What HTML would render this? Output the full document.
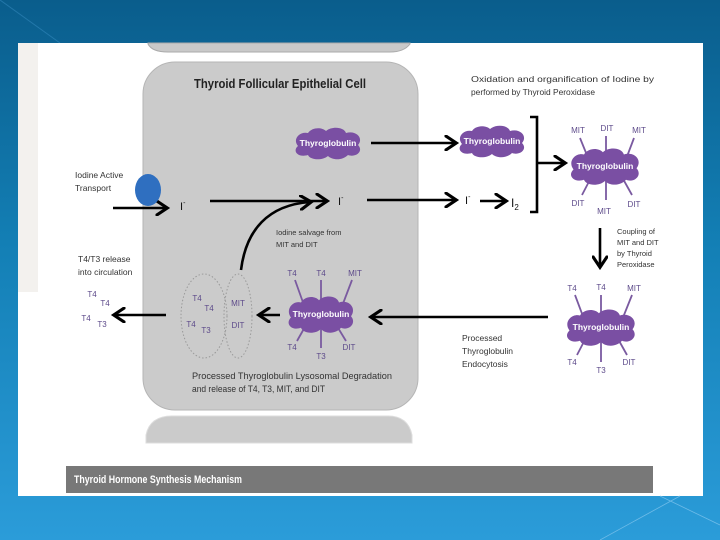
<!DOCTYPE html>
<html><head><meta charset="utf-8"><style>
html,body{margin:0;padding:0;width:720px;height:540px;overflow:hidden}
body{background:linear-gradient(180deg,#0a5d8c 0%,#137fb5 45%,#2b9cd9 100%);font-family:"Liberation Sans",sans-serif}
svg{position:absolute;left:0;top:0}
</style></head><body>
<svg width="720" height="540" viewBox="0 0 720 540">
<defs>
<marker id="ah" markerWidth="6" markerHeight="6" refX="4" refY="3" orient="auto" markerUnits="strokeWidth"><path d="M0,0 L4.5,3 L0,6" fill="none" stroke="#000" stroke-width="1.2"/></marker>
<g id="blob">
<path d="M-30,3 C-36,-4 -28,-12 -20,-10 C-16,-16 -6,-16 -2,-12 C4,-17 16,-16 18,-10 C28,-13 36,-5 30,2 C36,8 28,15 20,12 C14,18 4,17 0,13 C-6,18 -18,17 -20,12 C-30,15 -36,8 -30,3 Z" fill="#7a4fa3"/>
</g>
</defs>
<path d="M0,0 L60,43" stroke="#3a8fc4" stroke-width="1" opacity="0.5"/>
<rect x="18" y="43" width="685" height="453" fill="#fff"/>
<rect x="18" y="43" width="20" height="249" fill="#f3f1ee"/>
<!-- cells -->
<path d="M148,43 L410,43 L410,44 Q404,52 390,52 L168,52 Q152,52 148,44 Z" fill="#c9c9c9" stroke="#aaa"/>
<rect x="143" y="62" width="275" height="348" rx="32" fill="#cbcbcb" stroke="#b5b5b5"/>
<path d="M146,443 L146,435 Q150,416 172,416 L388,416 Q408,416 412,435 L412,443 Z" fill="#cbcbcb" stroke="#ddd"/>
<text x="280" y="88" font-size="13" font-weight="bold" text-anchor="middle" fill="#222" textLength="172" lengthAdjust="spacingAndGlyphs">Thyroid Follicular Epithelial Cell</text>
<g font-size="8.5" fill="#333">
<text x="471" y="82" textLength="183" lengthAdjust="spacingAndGlyphs">Oxidation and organification of Iodine by</text>
<text x="471" y="95" textLength="124" lengthAdjust="spacingAndGlyphs">performed by Thyroid Peroxidase</text>
<text x="75" y="178">Iodine Active</text><text x="75" y="191">Transport</text>
<text x="276" y="235" font-size="7.5">Iodine salvage from</text><text x="276" y="247" font-size="7.5">MIT and DIT</text>
<text x="78" y="262">T4/T3 release</text><text x="78" y="275">into circulation</text>
<text x="462" y="341">Processed</text><text x="462" y="354">Thyroglobulin</text><text x="462" y="367">Endocytosis</text>
<text x="617" y="234" font-size="7.5">Coupling of</text><text x="617" y="245" font-size="7.5">MIT and DIT</text><text x="617" y="256" font-size="7.5">by Thyroid</text><text x="617" y="267" font-size="7.5">Peroxidase</text>
<text x="192" y="379" font-size="9.5" textLength="200" lengthAdjust="spacingAndGlyphs">Processed Thyroglobulin Lysosomal Degradation</text>
<text x="192" y="392" font-size="9.5" textLength="133" lengthAdjust="spacingAndGlyphs">and release of T4, T3, MIT, and DIT</text>
</g>
<!-- arrows -->
<g stroke="#000" stroke-width="2.6" fill="none" marker-end="url(#ah)">
<line x1="371" y1="143" x2="455" y2="143"/>
<line x1="113" y1="208" x2="166" y2="208"/>
<line x1="210" y1="201" x2="326" y2="201"/>
<line x1="367" y1="200" x2="455" y2="200"/>
<line x1="480" y1="201" x2="505" y2="201"/>
<line x1="537" y1="163" x2="564" y2="163"/>
<line x1="600" y1="228" x2="600" y2="266"/>
<line x1="548" y1="317" x2="372" y2="317"/>
<line x1="280" y1="315" x2="260" y2="315"/>
<line x1="166" y1="315" x2="115" y2="315"/>
<path d="M241,270 C246,230 268,205 310,202"/>
</g>
<path d="M530,117 L537,117 L537,212 L530,212" stroke="#000" stroke-width="2.6" fill="none"/>
<ellipse cx="148" cy="190" rx="13" ry="16" fill="#2f6fc0"/>
<g font-size="11" fill="#111">
<text x="180" y="210">I<tspan font-size="7" dy="-5">-</tspan></text>
<text x="338" y="205">I<tspan font-size="7" dy="-5">-</tspan></text>
<text x="465" y="204">I<tspan font-size="7" dy="-5">-</tspan></text>
<text x="511" y="207" font-size="12">I<tspan font-size="8" dy="3">2</tspan></text>
</g>
<!-- molecule spokes -->
<g stroke="#7a5aa0" stroke-width="1.8">
<line x1="580" y1="138" x2="595" y2="175"/><line x1="606" y1="136" x2="606" y2="200"/><line x1="634" y1="138" x2="620" y2="175"/>
<line x1="582" y1="195" x2="595" y2="170"/><line x1="632" y1="195" x2="618" y2="170"/>
<line x1="575" y1="295" x2="590" y2="335"/><line x1="601" y1="295" x2="601" y2="362"/><line x1="632" y1="295" x2="616" y2="335"/>
<line x1="577" y1="355" x2="590" y2="330"/><line x1="627" y1="355" x2="613" y2="330"/>
<line x1="295" y1="280" x2="310" y2="322"/><line x1="321" y1="280" x2="321" y2="348"/><line x1="352" y1="280" x2="336" y2="322"/>
<line x1="297" y1="341" x2="310" y2="318"/><line x1="346" y1="341" x2="332" y2="318"/>
</g>
<use href="#blob" transform="translate(328,143)"/>
<use href="#blob" transform="translate(492,141)"/>
<use href="#blob" transform="translate(605,166) scale(1.05,1.15)"/>
<use href="#blob" transform="translate(601,327) scale(1.05,1.15)"/>
<use href="#blob" transform="translate(321,314) scale(1.0,1.15)"/>
<g font-size="8.5" font-weight="bold" fill="#fff" text-anchor="middle">
<text x="328" y="146">Thyroglobulin</text><text x="492" y="144">Thyroglobulin</text>
<text x="605" y="169">Thyroglobulin</text><text x="601" y="330">Thyroglobulin</text><text x="321" y="317">Thyroglobulin</text>
</g>
<g font-size="8" fill="#5d4a8a" text-anchor="middle">
<text x="578" y="133">MIT</text><text x="607" y="131">DIT</text><text x="639" y="133">MIT</text>
<text x="578" y="206">DIT</text><text x="604" y="214">MIT</text><text x="634" y="207">DIT</text>
<text x="572" y="291">T4</text><text x="601" y="290">T4</text><text x="634" y="291">MIT</text>
<text x="572" y="365">T4</text><text x="601" y="373">T3</text><text x="629" y="365">DIT</text>
<text x="292" y="276">T4</text><text x="321" y="276">T4</text><text x="355" y="276">MIT</text>
<text x="292" y="350">T4</text><text x="321" y="359">T3</text><text x="349" y="350">DIT</text>
<text x="197" y="301">T4</text><text x="209" y="311">T4</text><text x="191" y="327">T4</text><text x="206" y="333">T3</text>
<text x="238" y="306">MIT</text><text x="238" y="328">DIT</text>
<text x="92" y="297">T4</text><text x="105" y="306">T4</text><text x="86" y="321">T4</text><text x="102" y="327">T3</text>
</g>
<ellipse cx="204" cy="316" rx="23" ry="42" fill="none" stroke="#999" stroke-dasharray="1.5,2"/>
<ellipse cx="238" cy="316" rx="14" ry="42" fill="none" stroke="#999" stroke-dasharray="1.5,2"/>
<rect x="66" y="466" width="587" height="27" fill="#787878"/>
<text x="74" y="483" font-size="11" font-weight="bold" fill="#fff" textLength="168" lengthAdjust="spacingAndGlyphs">Thyroid Hormone Synthesis Mechanism</text>
<path d="M600,540 L680,496 M660,496 L720,525" stroke="#6dbbe8" stroke-width="0.8" fill="none"/>
</svg>
</body></html>
